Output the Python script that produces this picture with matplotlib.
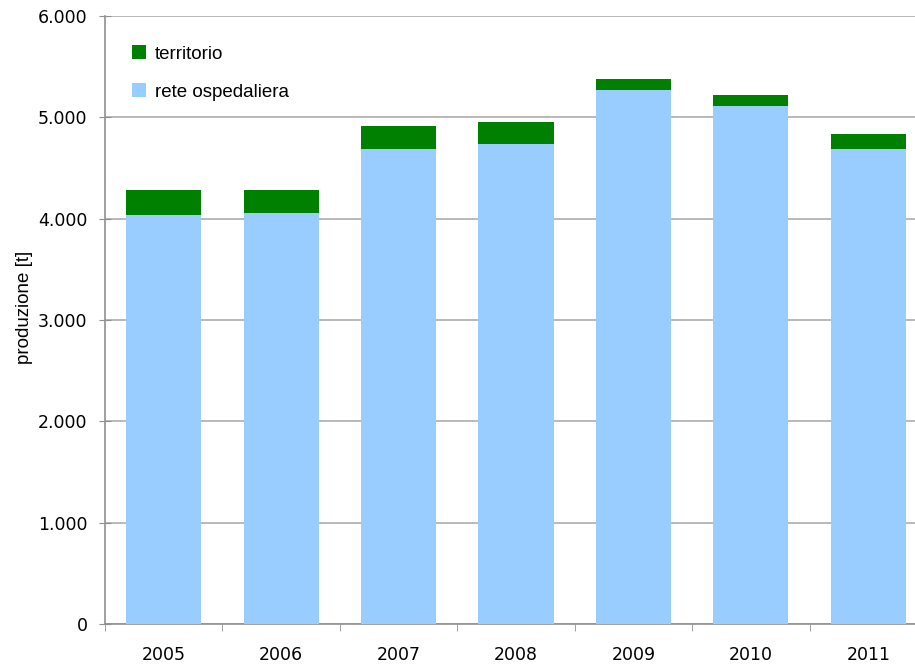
import matplotlib
matplotlib.use("Agg")
import matplotlib.pyplot as plt
from matplotlib.ticker import FuncFormatter

# produzione annua [t]
anni = ["2005", "2006", "2007", "2008", "2009", "2010", "2011"]
rete_ospedaliera = [4037, 4057, 4689, 4738, 5271, 5113, 4689]
territorio = [247, 227, 227, 218, 109, 109, 148]

narrow = ["Liberation Sans", "DejaVu Sans"]

fig = plt.figure(figsize=(9.15, 6.66), dpi=100)
ax = fig.add_axes([105 / 915, 42 / 666, 822 / 915, 608 / 666])

x = range(len(anni))
ax.bar(x, rete_ospedaliera, width=0.64, color="#99ccff", label="rete ospedaliera", zorder=3)
ax.bar(x, territorio, width=0.64, bottom=rete_ospedaliera, color="#008000",
       label="territorio", zorder=3)

ax.set_xlim(-0.5, len(anni) - 0.5)
ax.set_ylim(0, 6000)
ax.set_yticks(range(0, 6001, 1000))
ax.yaxis.set_major_formatter(FuncFormatter(lambda v, p: f"{int(v):,}".replace(",", ".")))
ax.yaxis.grid(True, color="#a6a6a6", linewidth=1.1, zorder=0)

ax.set_xticks(list(x))
ax.set_xticklabels(anni)
ax.set_xticks([i - 0.5 for i in range(len(anni) + 1)], minor=True)
ax.tick_params(axis="x", which="major", length=0, pad=16, labelsize=12.5)
ax.tick_params(axis="x", which="minor", length=5, color="#909090", direction="out")
ax.tick_params(axis="y", length=9, direction="inout", color="#909090", labelsize=12.5, pad=8)

for s in ["top", "right"]:
    ax.spines[s].set_visible(False)
for s in ["left", "bottom"]:
    ax.spines[s].set_color("#909090")
    ax.spines[s].set_linewidth(1.2)

ax.set_ylabel("produzione [t]", fontsize=13.5, family=narrow)
ax.yaxis.set_label_coords(-0.088, 0.52)

h, l = ax.get_legend_handles_labels()
ax.legend(h[::-1], l[::-1], loc="upper left", bbox_to_anchor=(0.012, 0.98),
          frameon=False, prop={"family": narrow, "size": 13.5},
          handlelength=0.78, handleheight=0.78, labelspacing=1.1, handletextpad=0.45)

fig.savefig("out.png", dpi=100)
